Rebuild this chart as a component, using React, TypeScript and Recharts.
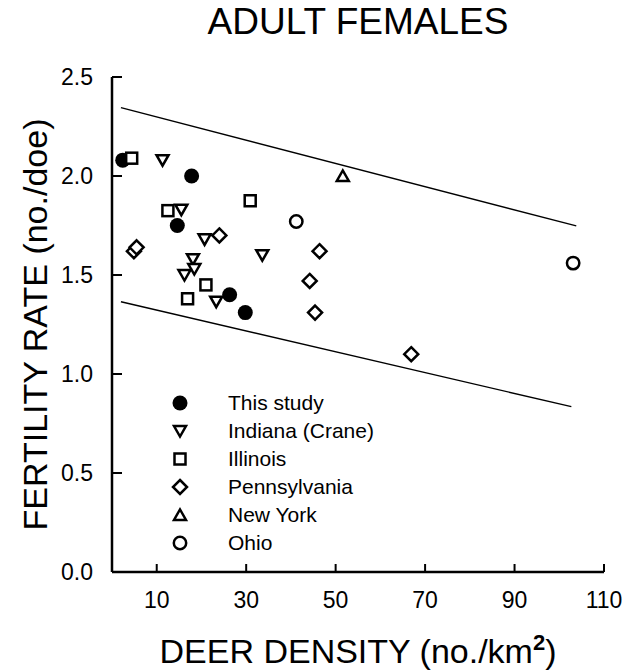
import React from 'react';
import {
  ScatterChart,
  Scatter,
  XAxis,
  YAxis,
  ReferenceLine,
  Legend,
} from 'recharts';

type Pt = { x: number; y: number };

const thisStudy: Pt[] = [
  { x: 2.4, y: 2.08 },
  { x: 17.8, y: 2.0 },
  { x: 14.6, y: 1.75 },
  { x: 26.3, y: 1.4 },
  { x: 29.8, y: 1.31 },
];
const indiana: Pt[] = [
  { x: 11.3, y: 2.08 },
  { x: 15.5, y: 1.83 },
  { x: 20.7, y: 1.68 },
  { x: 33.6, y: 1.6 },
  { x: 18.1, y: 1.58 },
  { x: 18.4, y: 1.53 },
  { x: 16.2, y: 1.5 },
  { x: 23.3, y: 1.365 },
];
const illinois: Pt[] = [
  { x: 4.4, y: 2.09 },
  { x: 12.5, y: 1.825 },
  { x: 30.9, y: 1.875 },
  { x: 21.0, y: 1.45 },
  { x: 16.9, y: 1.38 },
];
const pennsylvania: Pt[] = [
  { x: 4.9, y: 1.62 },
  { x: 5.5, y: 1.64 },
  { x: 24.0, y: 1.7 },
  { x: 46.4, y: 1.62 },
  { x: 44.2, y: 1.47 },
  { x: 45.4, y: 1.31 },
  { x: 66.9, y: 1.1 },
];
const newYork: Pt[] = [{ x: 51.6, y: 2.0 }];
const ohio: Pt[] = [
  { x: 41.2, y: 1.77 },
  { x: 103.1, y: 1.56 },
];

// prediction band edges
const upperBand: Pt[] = [
  { x: 2, y: 2.345 },
  { x: 103.8, y: 1.748 },
];
const lowerBand: Pt[] = [
  { x: 2, y: 1.365 },
  { x: 102.7, y: 0.835 },
];

const xTicks = [10, 30, 50, 70, 90, 110];
const yTicks = [0, 0.5, 1.0, 1.5, 2.0, 2.5];

const FONT = '"Liberation Sans", Arial, sans-serif';
const SW = 2.5;

type Kind = 'dot' | 'down' | 'square' | 'diamond' | 'up' | 'circle';

function Marker({ kind, cx, cy }: { kind: Kind; cx: number; cy: number }) {
  switch (kind) {
    case 'dot':
      return <circle cx={cx} cy={cy} r={7.5} fill="#000" />;
    case 'circle':
      return <circle cx={cx} cy={cy} r={6.2} fill="#fff" stroke="#000" strokeWidth={SW} />;
    case 'square':
      return <rect x={cx - 5.5} y={cy - 5.5} width={11} height={11} fill="#fff" stroke="#000" strokeWidth={SW} />;
    case 'diamond':
      return (
        <polygon
          points={`${cx},${cy - 7} ${cx + 7},${cy} ${cx},${cy + 7} ${cx - 7},${cy}`}
          fill="#fff"
          stroke="#000"
          strokeWidth={SW}
        />
      );
    case 'down':
      return (
        <polygon
          points={`${cx - 6},${cy - 5} ${cx + 6},${cy - 5} ${cx},${cy + 5.5}`}
          fill="#fff"
          stroke="#000"
          strokeWidth={SW}
        />
      );
    case 'up':
      return (
        <polygon
          points={`${cx - 6},${cy + 5} ${cx + 6},${cy + 5} ${cx},${cy - 5.5}`}
          fill="#fff"
          stroke="#000"
          strokeWidth={SW}
        />
      );
  }
  return null;
}

const SERIES: { name: string; data: Pt[]; kind: Kind }[] = [
  { name: 'This study', data: thisStudy, kind: 'dot' },
  { name: 'Indiana (Crane)', data: indiana, kind: 'down' },
  { name: 'Illinois', data: illinois, kind: 'square' },
  { name: 'Pennsylvania', data: pennsylvania, kind: 'diamond' },
  { name: 'New York', data: newYork, kind: 'up' },
  { name: 'Ohio', data: ohio, kind: 'circle' },
];

function renderLegend() {
  return (
    <div style={{ fontFamily: FONT, fontSize: 21, color: '#000' }}>
      {SERIES.map((s) => (
        <div key={s.name} style={{ display: 'flex', alignItems: 'center', height: 28 }}>
          <svg width={24} height={24}>
            <Marker kind={s.kind} cx={12} cy={12} />
          </svg>
          <span style={{ marginLeft: 36, lineHeight: '28px' }}>{s.name}</span>
        </div>
      ))}
    </div>
  );
}

function YLabel(props: any) {
  const vb = props.viewBox || {};
  const cx = vb.x + 35;
  const cy = vb.y + vb.height / 2;
  return (
    <text
      x={cx}
      y={cy}
      transform={`rotate(-90, ${cx}, ${cy})`}
      textAnchor="middle"
      dominantBaseline="central"
      fontFamily={FONT}
      fontSize={34}
      fill="#000"
    >
      FERTILITY RATE (no./doe)
    </text>
  );
}

function XLabel(props: any) {
  const vb = props.viewBox || {};
  return (
    <text
      x={vb.x + vb.width / 2}
      y={vb.y + 91}
      textAnchor="middle"
      fontFamily={FONT}
      fontSize={34}
      fill="#000"
    >
      DEER DENSITY (no./km
      <tspan dy={-13} fontSize={22} fontWeight="bold">2</tspan>
      <tspan dy={13}>)</tspan>
    </text>
  );
}

export default function App() {
  return (
    <div style={{ position: 'relative', width: 631, height: 671, background: '#fff' }}>
      <style>{`body{margin:0;background:#fff}`}</style>
      <div
        style={{
          position: 'absolute',
          left: 112,
          width: 492,
          top: 1,
          textAlign: 'center',
          fontFamily: FONT,
          fontSize: 37,
          color: '#000',
        }}
      >
        ADULT FEMALES
      </div>
      <ScatterChart width={631} height={671} margin={{ top: 77, right: 27, left: 0, bottom: 0 }}>
        <XAxis
          type="number"
          dataKey="x"
          domain={[0, 110]}
          ticks={xTicks}
          allowDataOverflow
          height={99}
          axisLine={{ stroke: '#000', strokeWidth: SW }}
          tickLine={{ stroke: '#000', strokeWidth: 2 }}
          tickSize={-8}
          tickMargin={28}
          tick={{ fill: '#000', fontSize: 23, fontFamily: FONT }}
          label={<XLabel />}
        />
        <YAxis
          type="number"
          dataKey="y"
          domain={[0, 2.5]}
          ticks={yTicks}
          allowDataOverflow
          width={112}
          axisLine={{ stroke: '#000', strokeWidth: SW }}
          tickLine={{ stroke: '#000', strokeWidth: 2 }}
          tickSize={-10}
          tickMargin={29}
          tickFormatter={(v: number) => v.toFixed(1)}
          tick={{ fill: '#000', fontSize: 23, fontFamily: FONT }}
          label={<YLabel />}
        />
        <ReferenceLine segment={upperBand} stroke="#000" strokeWidth={1.4} ifOverflow="visible" />
        <ReferenceLine segment={lowerBand} stroke="#000" strokeWidth={1.4} ifOverflow="visible" />
        {SERIES.map((s) => (
          <Scatter
            key={s.name}
            name={s.name}
            data={s.data}
            isAnimationActive={false}
            shape={(p: any) => <Marker kind={s.kind} cx={p.cx} cy={p.cy} />}
          />
        ))}
        <Legend
          content={renderLegend}
          layout="vertical"
          verticalAlign="middle"
          align="center"
          wrapperStyle={{ left: 168, top: 389, width: 300 }}
        />
      </ScatterChart>
    </div>
  );
}
